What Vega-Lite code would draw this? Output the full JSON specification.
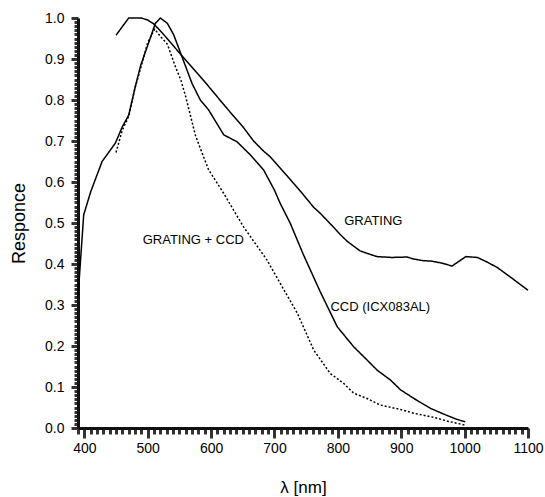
{
  "$schema": "https://vega.github.io/schema/vega-lite/v6.json",
  "width": 450,
  "height": 410,
  "autosize": "none",
  "padding": {"left": 78, "top": 18, "right": 17, "bottom": 69},
  "config": {"view": {"stroke": null}},
  "datasets": {
    "curves": [
      {"series": "GRATING", "nm": 450, "r": 0.958},
      {"series": "GRATING", "nm": 470, "r": 1.0},
      {"series": "GRATING", "nm": 490, "r": 1.0},
      {"series": "GRATING", "nm": 500, "r": 0.995},
      {"series": "GRATING", "nm": 510, "r": 0.985},
      {"series": "GRATING", "nm": 525, "r": 0.96},
      {"series": "GRATING", "nm": 550, "r": 0.915},
      {"series": "GRATING", "nm": 583, "r": 0.857},
      {"series": "GRATING", "nm": 600, "r": 0.826},
      {"series": "GRATING", "nm": 622, "r": 0.785},
      {"series": "GRATING", "nm": 650, "r": 0.735},
      {"series": "GRATING", "nm": 667, "r": 0.7},
      {"series": "GRATING", "nm": 683, "r": 0.675},
      {"series": "GRATING", "nm": 693, "r": 0.662},
      {"series": "GRATING", "nm": 720, "r": 0.615},
      {"series": "GRATING", "nm": 745, "r": 0.57},
      {"series": "GRATING", "nm": 762, "r": 0.538},
      {"series": "GRATING", "nm": 772, "r": 0.524},
      {"series": "GRATING", "nm": 790, "r": 0.495},
      {"series": "GRATING", "nm": 805, "r": 0.47},
      {"series": "GRATING", "nm": 815, "r": 0.455},
      {"series": "GRATING", "nm": 835, "r": 0.432},
      {"series": "GRATING", "nm": 850, "r": 0.424},
      {"series": "GRATING", "nm": 862, "r": 0.418},
      {"series": "GRATING", "nm": 885, "r": 0.416},
      {"series": "GRATING", "nm": 909, "r": 0.417},
      {"series": "GRATING", "nm": 920, "r": 0.412},
      {"series": "GRATING", "nm": 935, "r": 0.408},
      {"series": "GRATING", "nm": 948, "r": 0.407},
      {"series": "GRATING", "nm": 965, "r": 0.402},
      {"series": "GRATING", "nm": 980, "r": 0.395},
      {"series": "GRATING", "nm": 1002, "r": 0.418},
      {"series": "GRATING", "nm": 1020, "r": 0.416},
      {"series": "GRATING", "nm": 1035, "r": 0.405},
      {"series": "GRATING", "nm": 1051, "r": 0.392},
      {"series": "GRATING", "nm": 1075, "r": 0.365},
      {"series": "GRATING", "nm": 1100, "r": 0.336},
      {"series": "CCD", "nm": 390, "r": 0.32},
      {"series": "CCD", "nm": 399, "r": 0.52},
      {"series": "CCD", "nm": 410, "r": 0.576},
      {"series": "CCD", "nm": 428, "r": 0.65},
      {"series": "CCD", "nm": 449, "r": 0.695},
      {"series": "CCD", "nm": 460, "r": 0.735},
      {"series": "CCD", "nm": 470, "r": 0.763},
      {"series": "CCD", "nm": 480, "r": 0.83},
      {"series": "CCD", "nm": 489, "r": 0.885},
      {"series": "CCD", "nm": 502, "r": 0.942},
      {"series": "CCD", "nm": 512, "r": 0.987},
      {"series": "CCD", "nm": 520, "r": 1.0},
      {"series": "CCD", "nm": 531, "r": 0.987},
      {"series": "CCD", "nm": 541, "r": 0.959},
      {"series": "CCD", "nm": 552, "r": 0.914},
      {"series": "CCD", "nm": 570, "r": 0.84},
      {"series": "CCD", "nm": 583, "r": 0.8},
      {"series": "CCD", "nm": 596, "r": 0.776},
      {"series": "CCD", "nm": 620, "r": 0.715},
      {"series": "CCD", "nm": 641, "r": 0.698},
      {"series": "CCD", "nm": 662, "r": 0.666},
      {"series": "CCD", "nm": 683, "r": 0.629},
      {"series": "CCD", "nm": 700, "r": 0.58},
      {"series": "CCD", "nm": 709, "r": 0.548},
      {"series": "CCD", "nm": 725, "r": 0.499},
      {"series": "CCD", "nm": 745, "r": 0.425},
      {"series": "CCD", "nm": 772, "r": 0.333},
      {"series": "CCD", "nm": 799, "r": 0.247},
      {"series": "CCD", "nm": 825, "r": 0.198},
      {"series": "CCD", "nm": 846, "r": 0.166},
      {"series": "CCD", "nm": 862, "r": 0.141},
      {"series": "CCD", "nm": 883, "r": 0.117},
      {"series": "CCD", "nm": 899, "r": 0.093},
      {"series": "CCD", "nm": 920, "r": 0.072},
      {"series": "CCD", "nm": 946, "r": 0.048},
      {"series": "CCD", "nm": 970, "r": 0.032},
      {"series": "CCD", "nm": 988, "r": 0.021},
      {"series": "CCD", "nm": 1001, "r": 0.015},
      {"series": "GRATING + CCD", "nm": 450, "r": 0.672},
      {"series": "GRATING + CCD", "nm": 460, "r": 0.727},
      {"series": "GRATING + CCD", "nm": 470, "r": 0.76},
      {"series": "GRATING + CCD", "nm": 480, "r": 0.83},
      {"series": "GRATING + CCD", "nm": 491, "r": 0.889},
      {"series": "GRATING + CCD", "nm": 500, "r": 0.94},
      {"series": "GRATING + CCD", "nm": 511, "r": 0.973},
      {"series": "GRATING + CCD", "nm": 520, "r": 0.955},
      {"series": "GRATING + CCD", "nm": 531, "r": 0.936},
      {"series": "GRATING + CCD", "nm": 544, "r": 0.88},
      {"series": "GRATING + CCD", "nm": 552, "r": 0.85},
      {"series": "GRATING + CCD", "nm": 560, "r": 0.808},
      {"series": "GRATING + CCD", "nm": 575, "r": 0.715},
      {"series": "GRATING + CCD", "nm": 583, "r": 0.682},
      {"series": "GRATING + CCD", "nm": 596, "r": 0.63},
      {"series": "GRATING + CCD", "nm": 620, "r": 0.572},
      {"series": "GRATING + CCD", "nm": 651, "r": 0.491},
      {"series": "GRATING + CCD", "nm": 662, "r": 0.467},
      {"series": "GRATING + CCD", "nm": 688, "r": 0.41},
      {"series": "GRATING + CCD", "nm": 709, "r": 0.353},
      {"series": "GRATING + CCD", "nm": 736, "r": 0.28},
      {"series": "GRATING + CCD", "nm": 762, "r": 0.19},
      {"series": "GRATING + CCD", "nm": 788, "r": 0.133},
      {"series": "GRATING + CCD", "nm": 809, "r": 0.109},
      {"series": "GRATING + CCD", "nm": 825, "r": 0.085},
      {"series": "GRATING + CCD", "nm": 846, "r": 0.072},
      {"series": "GRATING + CCD", "nm": 867, "r": 0.056},
      {"series": "GRATING + CCD", "nm": 899, "r": 0.045},
      {"series": "GRATING + CCD", "nm": 920, "r": 0.036},
      {"series": "GRATING + CCD", "nm": 951, "r": 0.026},
      {"series": "GRATING + CCD", "nm": 975, "r": 0.016},
      {"series": "GRATING + CCD", "nm": 1001, "r": 0.007}
    ],
    "labels": [
      {"nm": 856, "r": 0.505, "text": "GRATING"},
      {"nm": 867, "r": 0.295, "text": "CCD (ICX083AL)"},
      {"nm": 572, "r": 0.459, "text": "GRATING + CCD"}
    ]
  },
  "encoding": {
    "x": {"field": "nm", "type": "quantitative", "scale": {"domain": [390, 1100], "nice": false, "zero": false},
      "axis": {"orient": "bottom", "grid": false, "domain": true, "ticks": true,
        "domainColor": "#111111", "domainWidth": 3, "domainOpacity": 1,
        "tickColor": "#333333", "tickWidth": 3, "tickOpacity": 1,
        "values": [390, 400, 410, 420, 430, 440, 450, 460, 470, 480, 490, 500, 510, 520, 530, 540, 550, 560, 570, 580, 590, 600, 610, 620, 630, 640, 650, 660, 670, 680, 690, 700, 710, 720, 730, 740, 750, 760, 770, 780, 790, 800, 810, 820, 830, 840, 850, 860, 870, 880, 890, 900, 910, 920, 930, 940, 950, 960, 970, 980, 990, 1000, 1010, 1020, 1030, 1040, 1050, 1060, 1070, 1080, 1090, 1100],
        "format": "d",
        "labelExpr": "datum.value % 100 === 0 ? datum.label : ''",
        "labelOverlap": false, "labelBound": false, "labelFlush": false,
        "tickSize": {"condition": {"test": "datum.value % 100 === 0", "value": 10}, "value": 6},
        "labelColor": "#000000", "labelFont": "Liberation Sans, Arial, sans-serif", "labelFontSize": 14, "labelPadding": 3,
        "title": "λ [nm]", "titleColor": "#000000", "titleFont": "Liberation Sans, Arial, sans-serif", "titleFontSize": 17, "titleFontWeight": "normal", "titlePadding": 24}},
    "y": {"field": "r", "type": "quantitative", "scale": {"domain": [0, 1], "nice": false},
      "axis": {"orient": "left", "grid": false, "domain": true, "ticks": true,
        "domainColor": "#111111", "domainWidth": 3, "domainOpacity": 1,
        "tickColor": "#333333", "tickWidth": 3, "tickOpacity": 1,
        "values": [0, 0.01, 0.02, 0.03, 0.04, 0.05, 0.06, 0.07, 0.08, 0.09, 0.1, 0.11, 0.12, 0.13, 0.14, 0.15, 0.16, 0.17, 0.18, 0.19, 0.2, 0.21, 0.22, 0.23, 0.24, 0.25, 0.26, 0.27, 0.28, 0.29, 0.3, 0.31, 0.32, 0.33, 0.34, 0.35, 0.36, 0.37, 0.38, 0.39, 0.4, 0.41, 0.42, 0.43, 0.44, 0.45, 0.46, 0.47, 0.48, 0.49, 0.5, 0.51, 0.52, 0.53, 0.54, 0.55, 0.56, 0.57, 0.58, 0.59, 0.6, 0.61, 0.62, 0.63, 0.64, 0.65, 0.66, 0.67, 0.68, 0.69, 0.7, 0.71, 0.72, 0.73, 0.74, 0.75, 0.76, 0.77, 0.78, 0.79, 0.8, 0.81, 0.82, 0.83, 0.84, 0.85, 0.86, 0.87, 0.88, 0.89, 0.9, 0.91, 0.92, 0.93, 0.94, 0.95, 0.96, 0.97, 0.98, 0.99, 1.0],
        "format": ".1f",
        "labelExpr": "abs(round(datum.value * 10) - datum.value * 10) < 0.001 ? datum.label : ''",
        "labelOverlap": false, "labelBound": false, "labelFlush": false,
        "tickSize": {"condition": {"test": "abs(round(datum.value * 10) - datum.value * 10) < 0.001", "value": 7}, "value": 4},
        "labelColor": "#000000", "labelFont": "Liberation Sans, Arial, sans-serif", "labelFontSize": 14, "labelPadding": 7,
        "title": "Responce", "titleColor": "#000000", "titleFont": "Liberation Sans, Arial, sans-serif", "titleFontSize": 18, "titleFontWeight": "normal", "titlePadding": 16}}
  },
  "layer": [
    {
      "data": {"name": "curves"},
      "mark": {"type": "line", "color": "black", "strokeJoin": "round"},
      "encoding": {
        "detail": {"field": "series"},
        "strokeDash": {"field": "series", "type": "nominal", "scale": {"domain": ["GRATING", "CCD", "GRATING + CCD"], "range": [[1, 0], [1, 0], [2, 2]]}, "legend": null},
        "strokeWidth": {"field": "series", "type": "nominal", "scale": {"domain": ["GRATING", "CCD", "GRATING + CCD"], "range": [1.5, 1.5, 1]}, "legend": null}
      }
    },
    {
      "data": {"name": "labels"},
      "mark": {"type": "text", "font": "Liberation Sans, Arial, sans-serif", "fontSize": 13, "color": "black", "align": "center", "baseline": "middle"},
      "encoding": {
        "text": {"field": "text"}
      }
    }
  ]
}
